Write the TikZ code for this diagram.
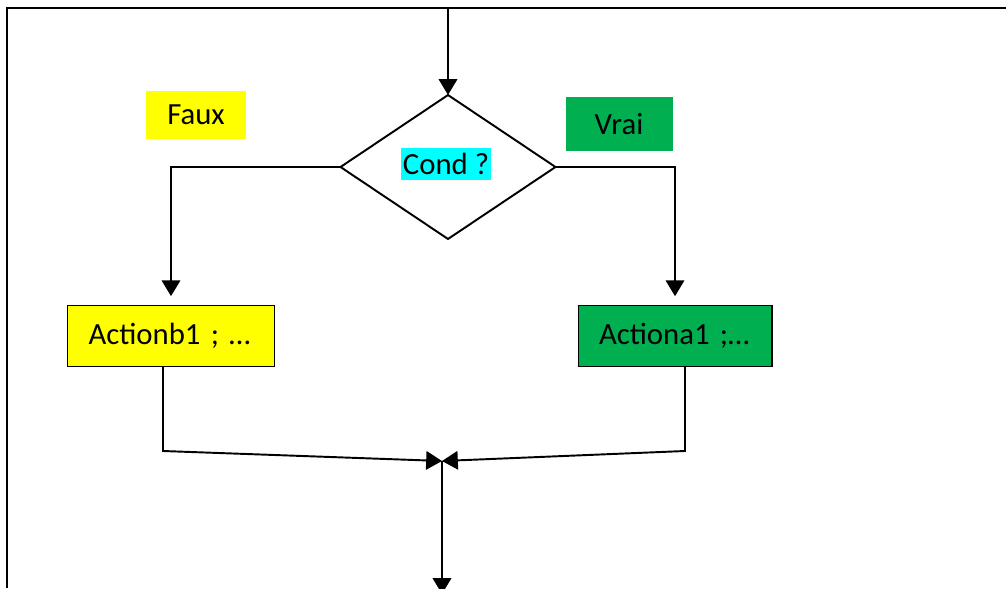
\documentclass[tikz,border=0pt]{standalone}
\usepackage{fontspec}
\setmainfont{Carlito}
\usetikzlibrary{arrows.meta,shapes.geometric}
\definecolor{vert}{RGB}{0,176,80}
\definecolor{bleuclair}{RGB}{0,255,255}
\definecolor{jaune}{RGB}{255,255,0}

\tikzset{
   arr/.style={-{Triangle[width=10.5pt,length=9pt]}},
   decision/.style={diamond,draw,line width=1.1pt,inner sep=0pt,outer sep=0pt,
      aspect=1.49,minimum width=4.3cm,minimum height=2.88cm},
   actbox/.style={draw,line width=0.6pt,align=left,inner xsep=0.42cm,
      minimum height=1.22cm,font=\fontsize{17.5}{20}\selectfont},
   tag/.style={inner sep=0pt,font=\fontsize{17.5}{20}\selectfont}
}

\begin{document}
\begin{tikzpicture}[x=0.02cm,y=-0.02cm,line width=1.1pt]
   \useasboundingbox (0,0) rectangle (1006,588);
   \draw[line width=1.2pt] (7,588) -- (7,8) -- (1006,8);

   \coordinate (in) at (448,8);
   \node[decision] (cond) at (448,167) {};
   \node[tag,fill=bleuclair,inner xsep=1pt,minimum height=0.66cm] (condtxt) at (446,164) {Cond ?};
   \node[tag,fill=jaune,minimum width=2.02cm,minimum height=0.98cm] (faux) at (196,115) {Faux};
   \node[tag,fill=vert,minimum width=2.14cm,minimum height=1.08cm] (vrai) at (619,124) {Vrai};

   \node[actbox,fill=jaune,text width=3.3cm] (actb) at (171,336) {Actionb1 ; …};
   \node[actbox,fill=vert,text width=3.04cm] (acta) at (675,336) {Actiona1 ;…};

   \coordinate (jl) at (163,451);
   \coordinate (jr) at (685,451);
   \coordinate (join) at (442,461);
   \coordinate (out) at (442,594);

   \draw[arr] (in) -- (cond.north);
   \draw[arr,shorten >=5pt] (cond.west) -| (actb.north);
   \draw[arr,shorten >=5pt] (cond.east) -| (acta.north);
   \draw[arr] (actb.south -| jl) -- (jl) -- (join);
   \draw[arr] (acta.south -| jr) -- (jr) -- (join);
   \draw[arr] (join) -- (out);
\end{tikzpicture}
\end{document}
